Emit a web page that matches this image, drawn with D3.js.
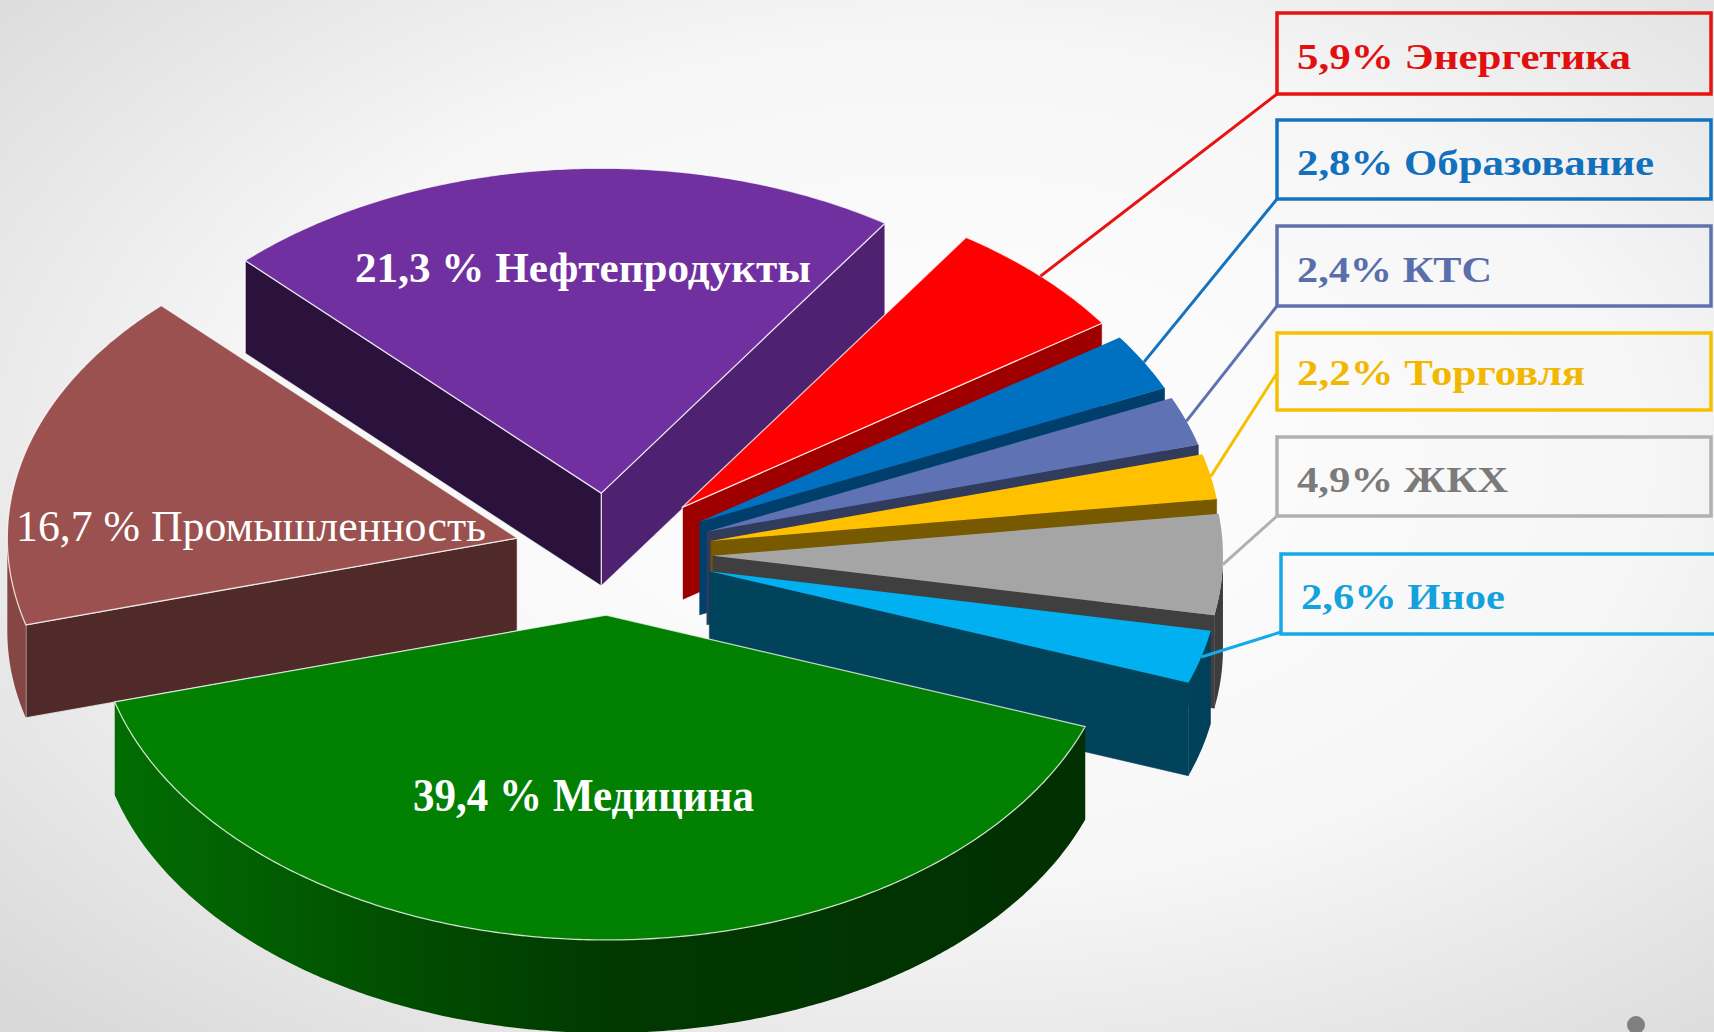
<!DOCTYPE html>
<html><head><meta charset="utf-8">
<script src="https://cdn.jsdelivr.net/npm/d3@7"></script>
<style>html,body{margin:0;padding:0;overflow:hidden;background:#fff}</style>
</head><body>
<svg id="chart" width="1714" height="1032"></svg>
<script>
// ---- data (pie order, going round from the front) ----
const categories = ["Медицина","Иное","ЖКХ","Торговля","КТС","Образование","Энергетика","Нефтепродукты","Промышленность"];
const values = [39.4, 2.6, 4.9, 2.2, 2.4, 2.8, 5.9, 21.3, 16.7];
const legendCategories = ["Энергетика","Образование","КТС","Торговля","ЖКХ","Иное"];
const insideCategories = ["Нефтепродукты","Промышленность","Медицина"];

// ---- styles ----
const sliceColors = ["#028002","#00b0f0","#a5a5a5","#ffc000","#5f72b3","#0070c0","#ff0000","#7030a0","#9b514f"];
const legendTextColors = ["#e01010","#1270bd","#5a6eab","#f2b700","#7b7b7b","#14a2dc"];
const legendBoxColors = ["#e81212","#1373c0","#5f72b0","#f5c000","#b0b0b0","#15a9e6"];

// ---- layout ----
const W = 1714, H = 1032;
const cx = 610, cy = 554, R = 510, K = 0.637, DEPTH = 93;
const legendBoxes = [
  {x:1277, y:13,  w:434, h:81, tx:1297, ty:69,  tw:334, ay:94},
  {x:1277, y:120, w:434, h:79, tx:1297, ty:175, tw:357, ay:199},
  {x:1277, y:226, w:434, h:80, tx:1297, ty:282, tw:195, ay:306},
  {x:1277, y:333, w:434, h:77, tx:1297, ty:385, tw:288, ay:373},
  {x:1277, y:437, w:434, h:79, tx:1297, ty:492, tw:211, ay:516},
  {x:1281, y:554, w:440, h:80, tx:1301, ty:609, tw:204, ay:632}
];
const insideLabels = [
  {x:355, y:282, size:42, weight:"bold",   tw:456},
  {x:16,  y:541, size:44, weight:"normal", tw:470},
  {x:413, y:811, size:46, weight:"bold",   tw:341}
];

const svg = d3.select("#chart");
const defs = svg.append("defs");
const bg = defs.append("radialGradient").attr("id","bg")
  .attr("cx","55%").attr("cy","45%").attr("r","75%");
bg.append("stop").attr("offset","0%").attr("stop-color","#ffffff");
bg.append("stop").attr("offset","55%").attr("stop-color","#f6f6f6");
bg.append("stop").attr("offset","100%").attr("stop-color","#d9d9d9");
svg.append("rect").attr("width",W).attr("height",H).attr("fill","url(#bg)");

const deg = Math.PI/180;
const startA = -74.5*deg;
const data = categories.map((c,i)=>({cat:c, value:values[i], color:sliceColors[i]}));
const pie = d3.pie().sort(null).value(d=>d.value).startAngle(startA).endAngle(startA+2*Math.PI);
const arcs = pie(data);

function fmt(v){ return v.toFixed(1).replace(".", ","); }
function shade(c, f){ const r = d3.rgb(c); return d3.rgb(r.r*f, r.g*f, r.b*f).formatHex(); }
function clamp(v,a,b){ return Math.max(a, Math.min(b, v)); }
function sideShade(phi){ const s = Math.sin(phi); return clamp(s < 0 ? 0.44 - 0.43*s : 0.44 - 0.07*s, 0.36, 0.9); }

arcs.forEach(a=>{
  a.mid = (a.startAngle + a.endAngle)/2;
  const ex = a.data.value >= 10 ? 96 : 103;
  a.o = {x: cx + ex*Math.sin(a.mid), y: cy + ex*K*Math.cos(a.mid)};
});
function P(o, phi, rho, z){ return [o.x + rho*Math.sin(phi), o.y + rho*K*Math.cos(phi) + z*DEPTH]; }

const pieG = svg.append("g");
const order = arcs.slice().sort((p,q)=>Math.cos(p.mid) - Math.cos(q.mid));
const line = d3.line();
let gid = 0;

order.forEach(a=>{
  const g = pieG.append("g");
  const big = a.data.value >= 5;
  const edge = big ? "rgba(255,255,255,0.75)" : "none";
  const a0 = a.startAngle, a1 = a.endAngle, o = a.o;
  // radial walls
  const wall = (phi, nx)=>{
    const f = clamp(0.42 + 0.35*nx, 0.38, 0.7);
    const col = shade(a.data.color, f);
    g.append("path").attr("d", line([P(o,phi,0,0),P(o,phi,R,0),P(o,phi,R,1),P(o,phi,0,1)])+"Z")
      .attr("fill", col).attr("stroke", big?edge:col).attr("stroke-width", big?1.2:0.6);
  };
  if (Math.sin(a0) > 0) wall(a0, -Math.cos(a0));
  if (Math.sin(a1) < 0) wall(a1, Math.cos(a1));
  // outer curved side (front-facing part only), shaded with a gradient
  [-2*Math.PI, 0, 2*Math.PI].forEach(s=>{
    const lo = Math.max(a0, -Math.PI/2 + s), hi = Math.min(a1, Math.PI/2 + s);
    if (hi <= lo) return;
    const n = Math.max(2, Math.ceil((hi-lo)/(0.5*deg)));
    const top = [], bot = [];
    for (let i=0;i<=n;i++){
      const p = lo + (hi-lo)*i/n;
      top.push(P(o,p,R,0)); bot.push(P(o,p,R,1));
    }
    const xlo = top[0][0], xhi = top[n][0];
    const id = "side" + (gid++);
    const lg = defs.append("linearGradient").attr("id", id).attr("gradientUnits","userSpaceOnUse")
      .attr("x1", xlo).attr("y1", 0).attr("x2", xhi).attr("y2", 0);
    const m = 16;
    for (let i=0;i<=m;i++){
      const p = lo + (hi-lo)*i/m;
      const x = P(o,p,R,0)[0];
      const off = Math.abs(xhi-xlo) < 1 ? i/m : (x - xlo)/(xhi - xlo);
      lg.append("stop").attr("offset", clamp(off,0,1)).attr("stop-color", shade(a.data.color, sideShade(p)));
    }
    g.append("path").attr("d", line(top.concat(bot.reverse()))+"Z")
      .attr("fill", `url(#${id})`).attr("stroke","none");
  });
  // top face
  const pts = [P(o,a0,0,0)];
  const n = Math.max(2, Math.ceil((a1-a0)/(0.5*deg)));
  for (let i=0;i<=n;i++) pts.push(P(o, a0 + (a1-a0)*i/n, R, 0));
  g.append("path").attr("d", line(pts)+"Z").attr("fill", a.data.color)
    .attr("stroke", edge).attr("stroke-width", 1.3).attr("stroke-linejoin","round");
});

// inside labels
insideCategories.forEach((c,i)=>{
  const a = arcs.find(d=>d.data.cat===c);
  const L = insideLabels[i];
  svg.append("text").attr("x", L.x).attr("y", L.y)
    .attr("font-family","'Liberation Serif','Times New Roman',serif")
    .attr("font-size", L.size).attr("font-weight", L.weight).attr("fill","#ffffff")
    .attr("textLength", L.tw).attr("lengthAdjust","spacingAndGlyphs")
    .text(fmt(a.data.value) + " % " + c);
});

// legend callouts
legendCategories.forEach((c,i)=>{
  const a = arcs.find(d=>d.data.cat===c);
  const b = legendBoxes[i];
  const p = P(a.o, a.mid, R, 0);
  svg.append("line").attr("x1", p[0]).attr("y1", p[1]).attr("x2", b.x).attr("y2", b.ay)
    .attr("stroke", legendBoxColors[i]).attr("stroke-width", 3);
  svg.append("rect").attr("x", b.x).attr("y", b.y).attr("width", b.w).attr("height", b.h)
    .attr("fill","none").attr("stroke", legendBoxColors[i]).attr("stroke-width", 3.5);
  svg.append("text").attr("x", b.tx).attr("y", b.ty)
    .attr("font-family","'Liberation Serif','Times New Roman',serif")
    .attr("font-size", 35).attr("font-weight","bold").attr("fill", legendTextColors[i])
    .attr("textLength", b.tw).attr("lengthAdjust","spacingAndGlyphs")
    .text(fmt(a.data.value) + "% " + c);
});

// slide marker dot
svg.append("circle").attr("cx",1636).attr("cy",1025).attr("r",9).attr("fill","#808080");
</script>
</body></html>
